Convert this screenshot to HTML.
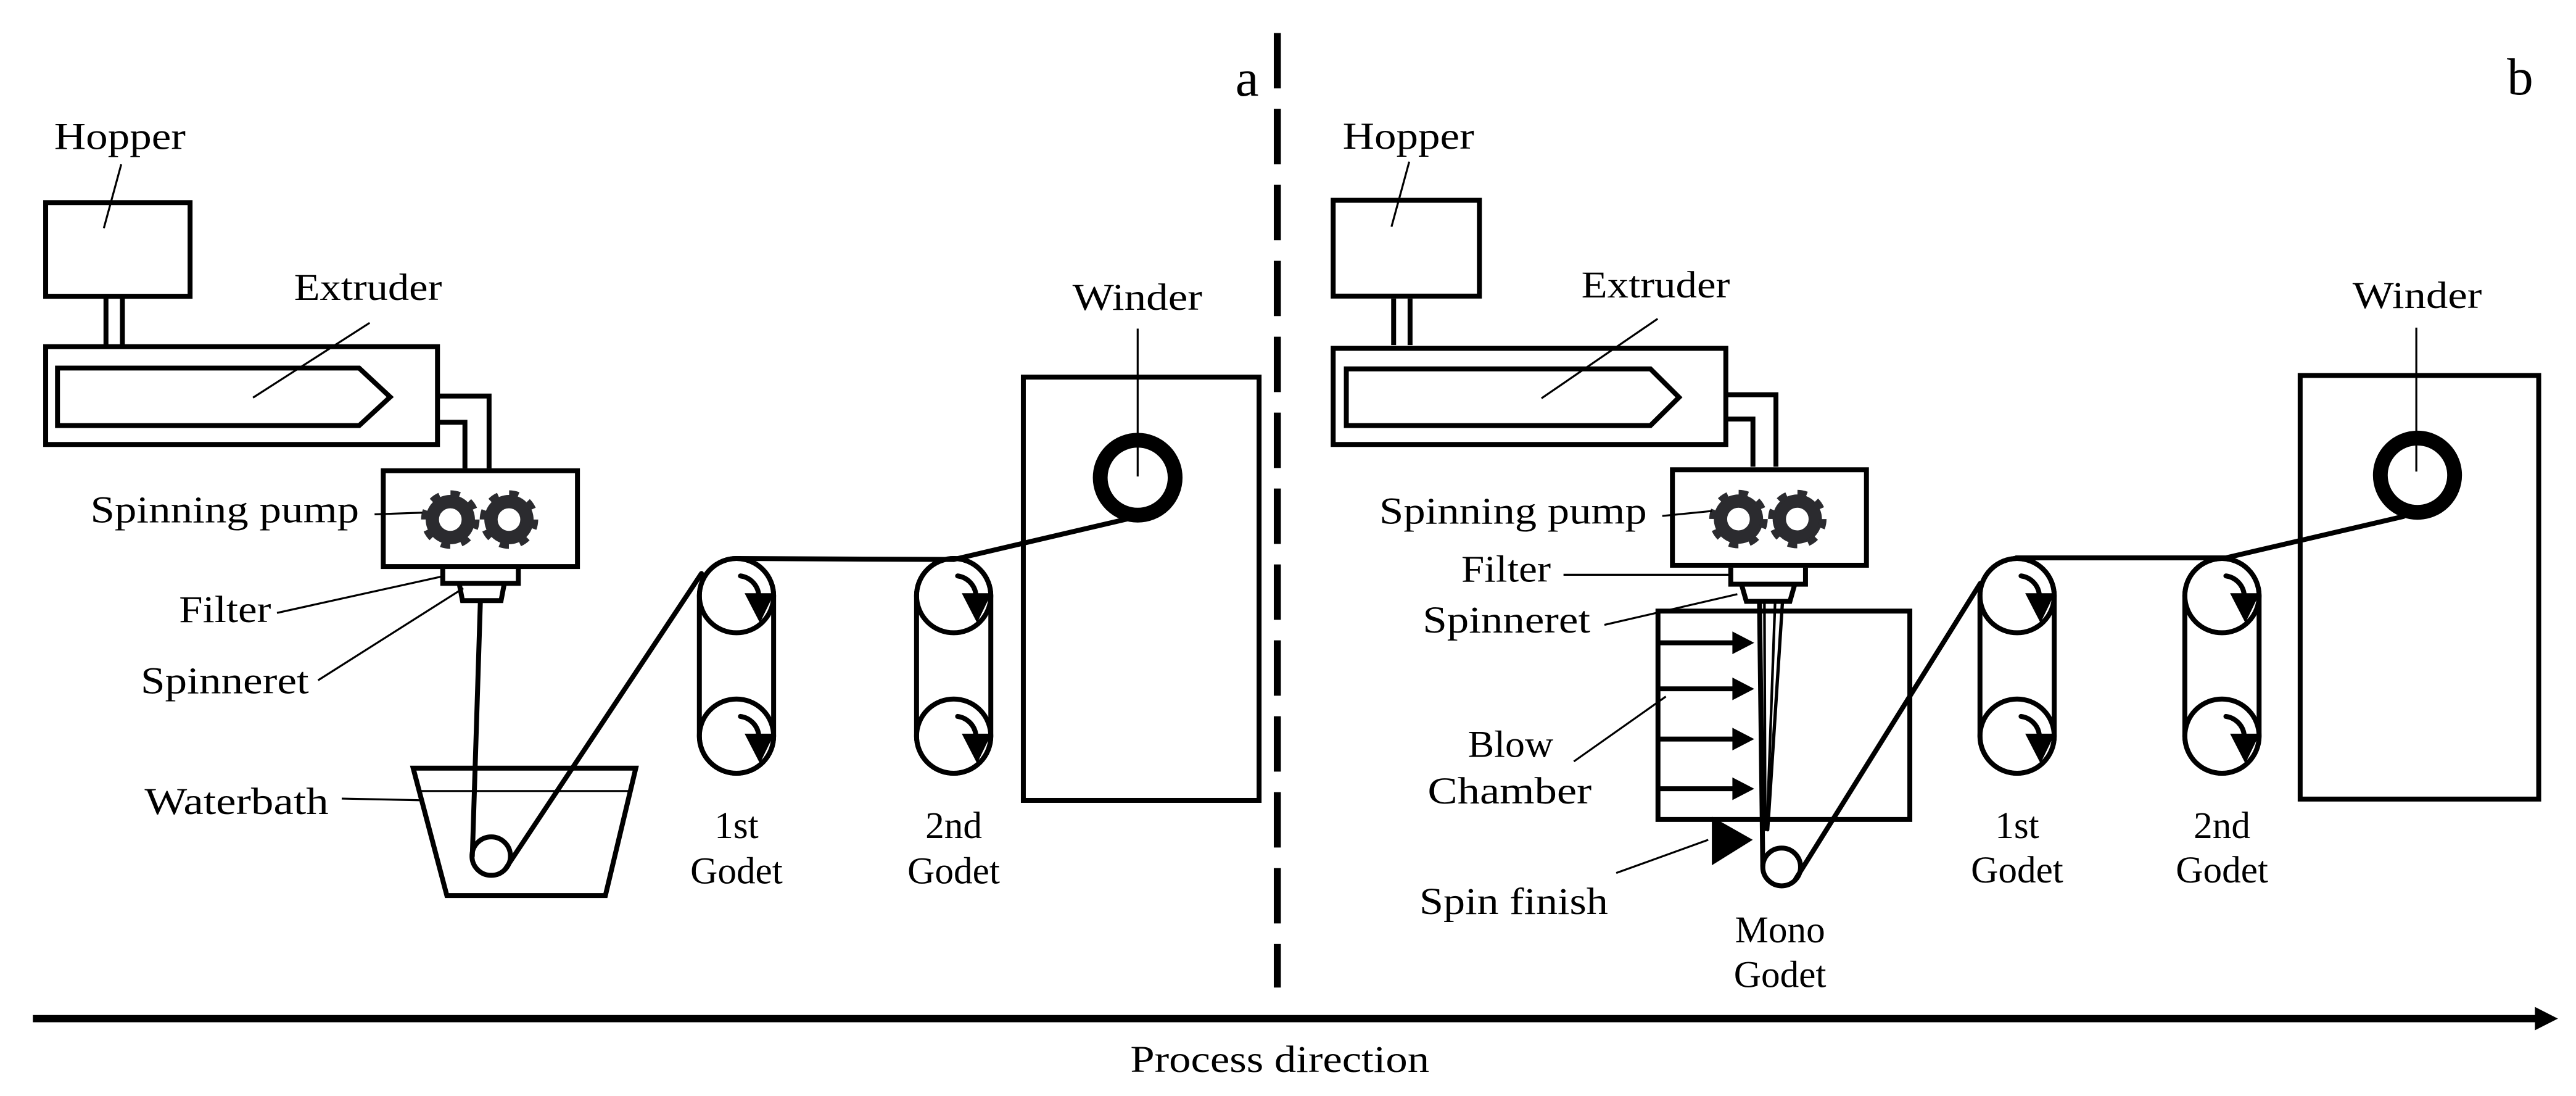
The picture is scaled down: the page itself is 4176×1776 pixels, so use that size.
<!DOCTYPE html>
<html><head><meta charset="utf-8"><style>
html,body{margin:0;padding:0;background:#fff;width:4176px;height:1776px;overflow:hidden}
svg{display:block}
text{font-family:"Liberation Serif",serif;font-size:23px;fill:#000}
</style></head><body>
<svg width="4176" height="1776" viewBox="0 0 1568 667" preserveAspectRatio="none" xmlns="http://www.w3.org/2000/svg">
<defs>
<g id="gear">
<circle r="10.95" fill="none" stroke="#2b2b2f" stroke-width="8.1"/>
<circle r="15.6" fill="none" stroke="#2b2b2f" stroke-width="4.4" stroke-dasharray="5.6 6.65"/>
</g>
<g id="arrowc">
<path d="M2.4 -12 A13 13 0 0 1 13.5 -1" fill="none" stroke="#000" stroke-width="3" stroke-linecap="round"/>
<polygon points="7.4,0 20.6,0 14.2,13.2" fill="#000"/>
</g>
<g id="godet" fill="none" stroke="#000" stroke-width="3">
<path d="M-22.6 362.5 L-22.6 448 A22.6 22.6 0 0 0 22.6 448 L22.6 362.5 A22.6 22.6 0 0 0 -22.6 362.5 Z"/>
<circle cx="0" cy="362.5" r="22.6"/>
<circle cx="0" cy="448" r="22.6"/>
<use href="#arrowc" transform="translate(0,362.5)"/>
<use href="#arrowc" transform="translate(0,448)"/>
</g>
</defs>

<!-- ============ PANEL A ============ -->
<g fill="none" stroke="#000" stroke-width="3">
<rect x="27.8" y="123.3" width="87.9" height="57"/>
<line x1="64.5" y1="181.7" x2="64.5" y2="210"/>
<line x1="74.5" y1="181.7" x2="74.5" y2="210"/>
<rect x="27.8" y="211" width="238.5" height="59.5"/>
<path d="M35 224 L218.6 224 L237.5 241.6 L218.6 259 L35 259 Z"/>
<path d="M266.3 241 L297.7 241 L297.7 285"/>
<path d="M266.3 257 L283 257 L283 285"/>
<rect x="233.3" y="286.5" width="118.2" height="58.3"/>
<path d="M269.5 346 L269.5 355 L315.5 355 L315.5 346"/>
<path d="M279.5 355 L281.5 365.5 L305 365.5 L307 355"/>
<rect x="622.9" y="229.5" width="143.5" height="257.6"/>
</g>
<use href="#gear" transform="translate(274.1,316.2)"/>
<use href="#gear" transform="translate(309.8,316.2)"/>
<!-- filament a -->
<g fill="none" stroke="#000" stroke-width="3" stroke-linecap="round">
<line x1="292.4" y1="366" x2="287.5" y2="521"/>
<circle cx="299" cy="521" r="11.7"/>
<line x1="307.5" y1="529" x2="427" y2="349"/>
<line x1="448" y1="339.9" x2="580.5" y2="340.5"/>
<line x1="580.5" y1="340.5" x2="686.7" y2="315.7"/>
</g>
<!-- waterbath -->
<path d="M251.5 467.5 L387 467.5 L368.5 545 L272 545 Z" fill="none" stroke="#000" stroke-width="3"/>
<line x1="256" y1="481.4" x2="384" y2="481.4" stroke="#000" stroke-width="1.2"/>
<use href="#godet" transform="translate(448.3,0)"/>
<use href="#godet" transform="translate(580.5,0)"/>
<circle cx="692.5" cy="290.7" r="22.8" fill="none" stroke="#000" stroke-width="9"/>
<!-- leaders a -->
<g stroke="#000" stroke-width="1.2">
<line x1="73.8" y1="100" x2="63.2" y2="138.9"/>
<line x1="225" y1="196.5" x2="154" y2="242"/>
<line x1="692.5" y1="200" x2="692.5" y2="290"/>
<line x1="228" y1="313" x2="257" y2="312"/>
<line x1="168.6" y1="373" x2="270" y2="350.6"/>
<line x1="193.6" y1="414" x2="282" y2="358"/>
<line x1="208" y1="486" x2="255.5" y2="487"/>
</g>
<text x="33" y="90.7" textLength="80" lengthAdjust="spacingAndGlyphs">Hopper</text>
<text x="179" y="182.5" textLength="90" lengthAdjust="spacingAndGlyphs">Extruder</text>
<text x="652.8" y="188.6" textLength="79" lengthAdjust="spacingAndGlyphs">Winder</text>
<text x="55" y="318" textLength="163.6" lengthAdjust="spacingAndGlyphs">Spinning pump</text>
<text x="109" y="378.6" textLength="56" lengthAdjust="spacingAndGlyphs">Filter</text>
<text x="85.6" y="422" textLength="102.4" lengthAdjust="spacingAndGlyphs">Spinneret</text>
<text x="88" y="495.4" textLength="112" lengthAdjust="spacingAndGlyphs">Waterbath</text>
<text x="448.3" y="510" text-anchor="middle">1st</text>
<text x="448.3" y="537.6" text-anchor="middle">Godet</text>
<text x="580.5" y="510" text-anchor="middle">2nd</text>
<text x="580.5" y="537.6" text-anchor="middle">Godet</text>
<text x="752" y="58.2" style="font-size:32px">a</text>

<!-- dashed divider -->
<line x1="777.5" y1="20.1" x2="777.5" y2="601" stroke="#000" stroke-width="4.3" stroke-dasharray="33.7 12.5"/>

<!-- ============ PANEL B ============ -->
<g fill="none" stroke="#000" stroke-width="3">
<rect x="811.5" y="121.9" width="89" height="58.3"/>
<line x1="848.3" y1="181.7" x2="848.3" y2="210"/>
<line x1="858.3" y1="181.7" x2="858.3" y2="210"/>
<rect x="811.5" y="212" width="239" height="58.5"/>
<path d="M819.5 224.5 L1004.6 224.5 L1022 241.8 L1004.6 259 L819.5 259 Z"/>
<path d="M1050.5 240.2 L1081 240.2 L1081 284"/>
<path d="M1050.5 255 L1067 255 L1067 284"/>
<rect x="1018" y="285.9" width="118.1" height="58.1"/>
<path d="M1053.5 345.5 L1053.5 355.5 L1099 355.5 L1099 345.5"/>
<path d="M1060 355.5 L1063 366 L1089.5 366 L1092.5 355.5"/>
<rect x="1009.2" y="371.9" width="153.3" height="126.8"/>
<rect x="1400.1" y="228.5" width="145.2" height="257.8"/>
</g>
<use href="#gear" transform="translate(1058.2,315.9)"/>
<use href="#gear" transform="translate(1094,315.9)"/>
<!-- blow arrows -->
<g stroke="#000" stroke-width="3">
<line x1="1009" y1="391.2" x2="1056" y2="391.2"/>
<line x1="1009" y1="419.2" x2="1056" y2="419.2"/>
<line x1="1009" y1="449.8" x2="1056" y2="449.8"/>
<line x1="1009" y1="480" x2="1056" y2="480"/>
</g>
<g fill="#000">
<polygon points="1054.5,384.3 1067.8,391.2 1054.5,398.1"/>
<polygon points="1054.5,412.3 1067.8,419.2 1054.5,426.1"/>
<polygon points="1054.5,442.9 1067.8,449.8 1054.5,456.7"/>
<polygon points="1054.5,473.1 1067.8,480 1054.5,486.9"/>
<polygon points="1042,497 1042,526.6 1066.9,511.1"/>
</g>
<!-- filaments b -->
<g fill="none" stroke="#000" stroke-linecap="round">
<line x1="1071" y1="366" x2="1073" y2="527" stroke-width="3"/>
<line x1="1074" y1="366" x2="1074.5" y2="505" stroke-width="1.6"/>
<line x1="1080.5" y1="366" x2="1075.5" y2="505" stroke-width="1.6"/>
<line x1="1085" y1="366" x2="1076" y2="505" stroke-width="2"/>
<circle cx="1084.5" cy="527.6" r="11.5" stroke-width="3"/>
<line x1="1093" y1="535" x2="1205.4" y2="355" stroke-width="3"/>
<line x1="1227.2" y1="339.5" x2="1354.8" y2="339.5" stroke-width="3"/>
<line x1="1354.8" y1="339.5" x2="1463" y2="314.3" stroke-width="3"/>
</g>
<use href="#godet" transform="translate(1227.8,0)"/>
<use href="#godet" transform="translate(1352.5,0)"/>
<circle cx="1471.5" cy="289.2" r="22.6" fill="none" stroke="#000" stroke-width="9"/>
<!-- leaders b -->
<g stroke="#000" stroke-width="1.2">
<line x1="857.8" y1="98.4" x2="847" y2="138"/>
<line x1="1009" y1="194" x2="938.3" y2="242.4"/>
<line x1="1470.8" y1="199.4" x2="1470.8" y2="287"/>
<line x1="1011.8" y1="314" x2="1042" y2="311"/>
<line x1="951.7" y1="349.8" x2="1054.5" y2="349.8"/>
<line x1="976.6" y1="380.3" x2="1057.5" y2="361.6"/>
<line x1="958" y1="463.4" x2="1014" y2="423.9"/>
<line x1="983.8" y1="531.3" x2="1039.8" y2="511.1"/>
</g>
<text x="817.3" y="90.5" textLength="80" lengthAdjust="spacingAndGlyphs">Hopper</text>
<text x="962.6" y="181" textLength="90.4" lengthAdjust="spacingAndGlyphs">Extruder</text>
<text x="1432" y="187.5" textLength="78.7" lengthAdjust="spacingAndGlyphs">Winder</text>
<text x="839.6" y="318.7" textLength="162.8" lengthAdjust="spacingAndGlyphs">Spinning pump</text>
<text x="889.5" y="353.9" textLength="54.5" lengthAdjust="spacingAndGlyphs">Filter</text>
<text x="866" y="385" textLength="102" lengthAdjust="spacingAndGlyphs">Spinneret</text>
<text x="893.5" y="460.6" textLength="52" lengthAdjust="spacingAndGlyphs">Blow</text>
<text x="869" y="489" textLength="99.8" lengthAdjust="spacingAndGlyphs">Chamber</text>
<text x="864" y="556.2" textLength="114.8" lengthAdjust="spacingAndGlyphs">Spin finish</text>
<text x="1083.5" y="573.4" text-anchor="middle">Mono</text>
<text x="1083.5" y="600.8" text-anchor="middle">Godet</text>
<text x="1227.8" y="510" text-anchor="middle">1st</text>
<text x="1227.8" y="537" text-anchor="middle">Godet</text>
<text x="1352.5" y="510" text-anchor="middle">2nd</text>
<text x="1352.5" y="537" text-anchor="middle">Godet</text>
<text x="1526" y="57.5" style="font-size:32px">b</text>

<!-- process direction -->
<line x1="20" y1="619.9" x2="1545" y2="619.9" stroke="#000" stroke-width="4.4"/>
<polygon points="1543,612.8 1557,619.9 1543,627" fill="#000"/>
<text x="688" y="652.4" textLength="182" lengthAdjust="spacingAndGlyphs">Process direction</text>
</svg>
</body></html>
